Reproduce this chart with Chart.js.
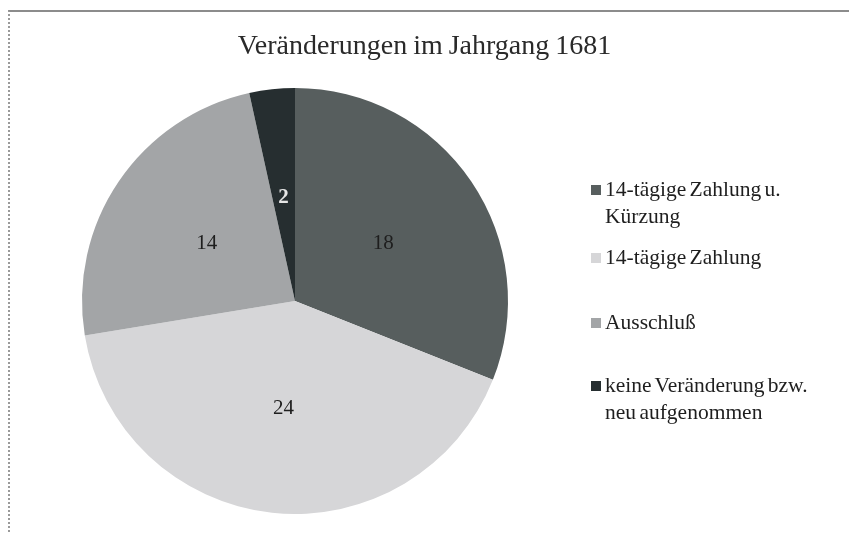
<!DOCTYPE html>
<html>
<head>
<meta charset="utf-8">
<script src="https://cdn.jsdelivr.net/npm/chart.js@4/dist/chart.umd.min.js"></script>
<style>
  html, body { margin: 0; padding: 0; background: #fff; }
  #wrap { position: relative; width: 849px; height: 534px; overflow: hidden; }
  #frame { position: absolute; left: 8px; top: 10px; right: -10px; bottom: -10px;
           border-top: 2px solid #8c8c8c; border-left: 2px dotted #9a9a9a; }
  #c { position: absolute; left: 0; top: 0; }
  #title { position: absolute; left: 0; width: 849px; top: 29px; text-align: center;
           font-family: "Liberation Serif", "DejaVu Serif", serif; font-size: 28px; color: #2a2a2a;
           line-height: 32px; word-spacing: -1px; }
  #legend { position: absolute; left: 589px; top: 0; font-family: "Liberation Serif", serif;
            font-size: 21.5px; color: #1e1e1e; line-height: 27px; word-spacing: -2px; }
  .item { position: absolute; left: 0; white-space: nowrap; }
  .sw { position: absolute; left: 2px; top: 9px; width: 10px; height: 10px; }
  .txt { position: absolute; left: 16px; top: 0; }
</style>
</head>
<body>
<div id="wrap">
  <div id="frame"></div>
  <canvas id="c" width="849" height="534"></canvas>
  <div id="title"></div>
  <div id="legend"></div>
</div>
<script>
const chartTitle = "Veränderungen im Jahrgang 1681";
const categories = [
  ["14-tägige Zahlung u.", "Kürzung"],
  ["14-tägige Zahlung"],
  ["Ausschluß"],
  ["keine Veränderung bzw.", "neu aufgenommen"]
];
const values = [18, 24, 14, 2];
const colors = ["#575e5e", "#d6d6d8", "#a3a5a7", "#262e30"];
const labelColors = ["#1e1e1e", "#1e1e1e", "#1e1e1e", "#e6e6e6"];
const legendTops = [176, 244, 309, 372];

document.getElementById('title').textContent = chartTitle;
const leg = document.getElementById('legend');
categories.forEach((lines, i) => {
  const it = document.createElement('div');
  it.className = 'item';
  it.style.top = legendTops[i] + 'px';
  const sw = document.createElement('div');
  sw.className = 'sw';
  sw.style.background = colors[i];
  const tx = document.createElement('div');
  tx.className = 'txt';
  tx.innerHTML = lines.map(l => l.replace(/&/g,'&amp;')).join('<br>');
  it.appendChild(sw); it.appendChild(tx);
  leg.appendChild(it);
});

const valueLabels = {
  id: 'valueLabels',
  afterDatasetsDraw(chart) {
    const ctx = chart.ctx;
    const meta = chart.getDatasetMeta(0);
    ctx.save();
    ctx.textAlign = 'center';
    ctx.textBaseline = 'middle';
    meta.data.forEach((arc, i) => {
      const p = arc.tooltipPosition();
      ctx.font = (i === 3 ? 'bold ' : '') + '21px "Liberation Serif", serif';
      ctx.fillStyle = labelColors[i];
      ctx.fillText(String(chart.data.datasets[0].data[i]), p.x, p.y + 2);
    });
    ctx.restore();
  }
};

new Chart(document.getElementById('c'), {
  type: 'pie',
  data: {
    labels: categories.map(l => l.join(' ')),
    datasets: [{ data: values, backgroundColor: colors, borderWidth: 0 }]
  },
  options: {
    responsive: false,
    animation: false,
    layout: { padding: { left: 82, right: 341, top: 88, bottom: 20 } },
    plugins: { legend: { display: false }, title: { display: false }, tooltip: { enabled: false } }
  },
  plugins: [valueLabels]
});
</script>
</body>
</html>
